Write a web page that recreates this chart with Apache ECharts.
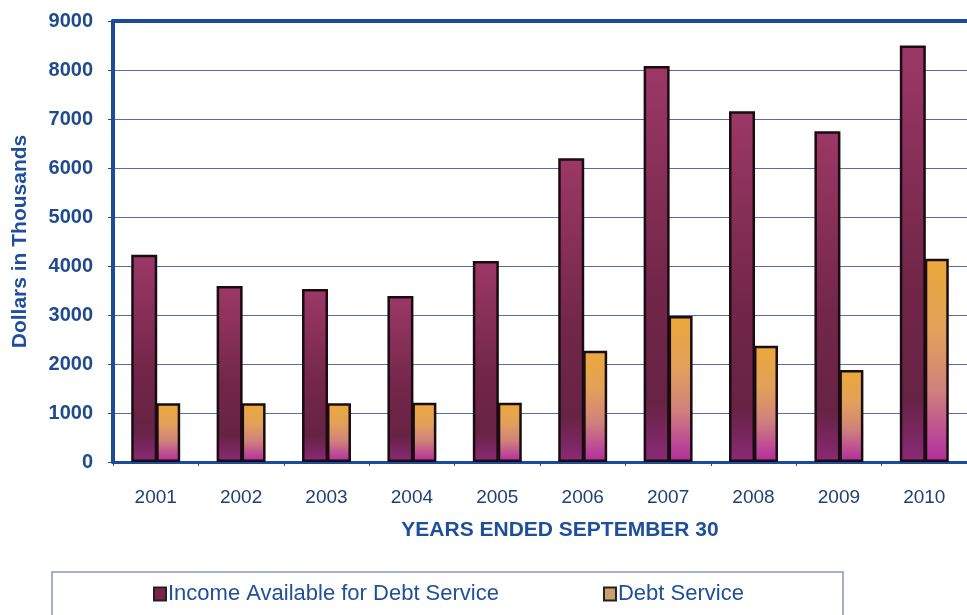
<!DOCTYPE html>
<html>
<head>
<meta charset="utf-8">
<script src="https://cdn.jsdelivr.net/npm/echarts@6/dist/echarts.min.js"></script>
<style>
  html, body { margin: 0; padding: 0; background: #fff; }
  #chart { width: 967px; height: 615px; }
</style>
</head>
<body>
<div id="chart"></div>
<script>
// values (dollars in thousands)
const years = ['2001', '2002', '2003', '2004', '2005', '2006', '2007', '2008', '2009', '2010'];
const incomeData = [4230, 3590, 3530, 3390, 4100, 6200, 8080, 7160, 6750, 8500];
const debtData = [1200, 1200, 1200, 1210, 1210, 2270, 2980, 2370, 1880, 4150];
const yTicks = { min: 0, max: 9000, step: 1000 };

const blue = '#1b4c9c';
const labelBlue = '#1f4a8e';

const chart = echarts.init(document.getElementById('chart'));

const incomeColor = new echarts.graphic.LinearGradient(0, 0, 0, 1, [
    { offset: 0, color: '#9c3866' },
    { offset: 0.55, color: '#73264a' },
    { offset: 0.85, color: '#672344' },
    { offset: 1, color: '#8a2a78' }
]);
const debtColor = new echarts.graphic.LinearGradient(0, 0, 0, 1, [
    { offset: 0, color: '#eca83a' },
    { offset: 0.35, color: '#e2a15a' },
    { offset: 0.65, color: '#d0807c' },
    { offset: 0.88, color: '#bb4896' },
    { offset: 1, color: '#b02c9c' }
]);

const option = {
    animation: false,
    grid: { left: 113, right: -6, top: 21, bottom: 153, containLabel: false },
    legend: {
        bottom: 5,
        left: 148,
        itemGap: 104,
        itemWidth: 12,
        itemHeight: 13,
        icon: 'rect',
        textStyle: { fontFamily: 'Liberation Sans', fontSize: 22, color: '#1f4e9a', padding: [0, 0, 0, -3] },
        data: [
            { name: 'Income Available for Debt Service', itemStyle: { color: '#7a2448', borderColor: '#222', borderWidth: 2 } },
            { name: 'Debt Service', itemStyle: { color: '#c9a070', borderColor: '#222', borderWidth: 2 } }
        ]
    },
    graphic: [{
        type: 'rect',
        z: -1,
        shape: { x: 52, y: 572, width: 791, height: 60 },
        style: { fill: '#fff', stroke: '#8c96b8', lineWidth: 1.5 }
    }],
    xAxis: [{
        type: 'category',
        data: years,
        axisLine: { lineStyle: { color: blue, width: 3 } },
        axisTick: { show: true, length: 4, lineStyle: { color: blue } },
        axisLabel: { margin: 26, fontFamily: 'Liberation Sans', fontSize: 19, color: '#1d3f7a' },
        name: 'YEARS ENDED SEPTEMBER 30',
        nameLocation: 'middle',
        nameGap: 58,
        nameTextStyle: { fontFamily: 'Liberation Sans', fontSize: 21, fontWeight: 'bold', color: '#1f4e9a', padding: [0, 0, 0, 40] }
    }, {
        type: 'category',
        position: 'top',
        data: years,
        axisLine: { lineStyle: { color: blue, width: 4 } },
        axisTick: { show: false },
        axisLabel: { show: false }
    }],
    yAxis: {
        type: 'value',
        min: yTicks.min,
        max: yTicks.max,
        interval: yTicks.step,
        axisLine: { show: true, lineStyle: { color: blue, width: 4 } },
        axisTick: { show: true, length: 5, lineStyle: { color: blue } },
        splitLine: { lineStyle: { color: '#5a6aa8', width: 1.2 } },
        axisLabel: {
            margin: 20, fontFamily: 'Liberation Sans', fontSize: 20, fontWeight: 'bold', color: labelBlue,
            formatter: v => String(v)
        },
        name: 'Dollars in Thousands',
        nameLocation: 'middle',
        nameGap: 82,
        nameTextStyle: { fontFamily: 'Liberation Sans', fontSize: 21, fontWeight: 'bold', color: '#1f4e9a' }
    },
    series: [{
        name: 'Income Available for Debt Service',
        type: 'bar',
        barWidth: 26,
        barGap: '-4%',
        data: incomeData,
        itemStyle: { color: incomeColor, borderColor: '#1a0d12', borderWidth: 2.5 }
    }, {
        name: 'Debt Service',
        type: 'bar',
        barWidth: 24,
        data: debtData,
        itemStyle: { color: debtColor, borderColor: '#1a0d12', borderWidth: 2.5 }
    }]
};

chart.setOption(option);
</script>
</body>
</html>
